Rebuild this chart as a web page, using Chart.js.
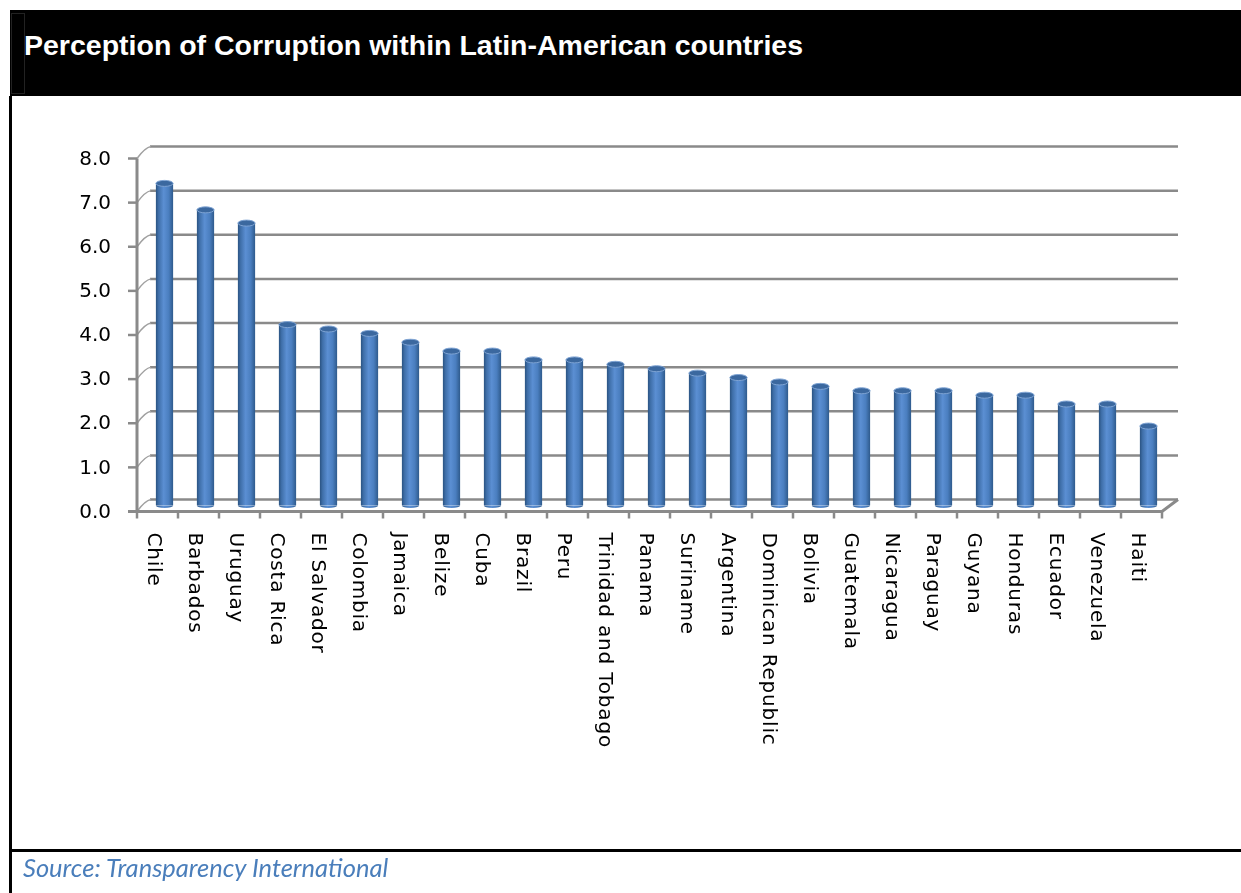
<!DOCTYPE html>
<html>
<head>
<meta charset="utf-8">
<script src="https://cdn.jsdelivr.net/npm/chart.js@4.4.1/dist/chart.umd.min.js"></script>
<style>
  html, body { margin: 0; padding: 0; background: #fff; }
  body { width: 1241px; height: 893px; position: relative; overflow: hidden; }
  #chart { position: absolute; left: 0; top: 0; }
  .header { position: absolute; left: 10px; top: 10px; width: 1231px; height: 86px; background: #000; }
  .header .inner { position: absolute; left: 1px; top: 3px; width: 12px; height: 79px; border: 1px solid #222; }
  .title { position: absolute; left: 24px; top: 29px; color: #fff; font: bold 28.5px "Liberation Sans", Arial, sans-serif; white-space: nowrap; }
  .vline { position: absolute; left: 9px; top: 96px; width: 3px; height: 797px; background: #000; }
  .hline { position: absolute; left: 9px; top: 849px; width: 1232px; height: 3px; background: #000; }
  .source { position: absolute; left: 23px; top: 852px; color: #4a7ebb; font: italic 25.5px Lato, "Open Sans", sans-serif; white-space: nowrap; }
</style>
</head>
<body>
<canvas id="chart" width="1241" height="893"></canvas>
<div class="header"><div class="inner"></div></div>
<div class="title">Perception of Corruption within Latin-American countries</div>
<div class="vline"></div>
<div class="hline"></div>
<div class="source">Source: Transparency International</div>

<script>
const countries = [
  "Chile", "Barbados", "Uruguay", "Costa Rica", "El Salvador", "Colombia",
  "Jamaica", "Belize", "Cuba", "Brazil", "Peru", "Trinidad and Tobago",
  "Panama", "Suriname", "Argentina", "Dominican Republic", "Bolivia",
  "Guatemala", "Nicaragua", "Paraguay", "Guyana", "Honduras", "Ecuador",
  "Venezuela", "Haiti",
];
const scores = [
  7.3, 6.7, 6.4, 4.1, 4.0, 3.9, 3.7, 3.5, 3.5, 3.3, 3.3, 3.2, 3.1, 3.0,
  2.9, 2.8, 2.7, 2.6, 2.6, 2.6, 2.5, 2.5, 2.3, 2.3, 1.8,
];
const yTickLabels = ["0.0", "1.0", "2.0", "3.0", "4.0", "5.0", "6.0", "7.0", "8.0"];

// fake 3d depth: back wall is +DX,-DY from the bar plane, front axis is -DX,+DY
const DX = 7;
const DY = 6;
const GRID = "#8a8a8a";

const barGradient = (ctx, x, w) => {
  const g = ctx.createLinearGradient(x - w / 2, 0, x + w / 2, 0);
  g.addColorStop(0, "#2b5483");
  g.addColorStop(0.15, "#3f6fa9");
  g.addColorStop(0.45, "#5b8fd3");
  g.addColorStop(0.75, "#4a7ebf");
  g.addColorStop(1, "#2f5b8d");
  return g;
};

const axes3d = {
  id: "axes3d",
  beforeDatasetsDraw(chart) {
    const ctx = chart.ctx;
    const xs = chart.scales.x;
    const ys = chart.scales.y;
    const area = chart.chartArea;
    ctx.save();
    ctx.lineCap = "butt";

    // back wall gridlines + connectors to the front axis
    ys.ticks.forEach((t, i) => {
      const y = ys.getPixelForValue(t.value);
      ctx.strokeStyle = GRID;
      ctx.lineWidth = 2.5;
      ctx.beginPath();
      ctx.moveTo(area.left + DX - 1, y - DY);
      ctx.lineTo(area.right + DX + 2, y - DY);
      ctx.stroke();

      ctx.strokeStyle = "#a0a0a0";
      ctx.lineWidth = 1.5;
      ctx.beginPath();
      ctx.moveTo(area.left - DX, y + DY);
      ctx.quadraticCurveTo(area.left + 1, y - DY + 1, area.left + DX, y - DY);
      ctx.stroke();

      // front tick + label
      ctx.strokeStyle = GRID;
      ctx.lineWidth = 2.5;
      ctx.beginPath();
      ctx.moveTo(area.left - DX - 9, y + DY);
      ctx.lineTo(area.left - DX, y + DY);
      ctx.stroke();

      ctx.fillStyle = "#000";
      ctx.font = "20px 'DejaVu Sans'";
      ctx.textAlign = "right";
      ctx.textBaseline = "middle";
      ctx.fillText(yTickLabels[i], area.left - DX - 26, y + DY + 1);
    });

    // front value axis
    const y0 = ys.getPixelForValue(0);
    const yTop = ys.getPixelForValue(ys.max);
    ctx.strokeStyle = GRID;
    ctx.lineWidth = 3;
    ctx.beginPath();
    ctx.moveTo(area.left - DX, yTop + DY);
    ctx.lineTo(area.left - DX, y0 + DY);
    ctx.stroke();

    // floor front edge and right side edge
    ctx.beginPath();
    ctx.moveTo(area.left - DX - 9, y0 + DY);
    ctx.lineTo(area.right - DX, y0 + DY);
    ctx.lineTo(area.right + DX + 2, y0 - DY);
    ctx.stroke();

    // category ticks on front edge
    ctx.lineWidth = 2.5;
    const step = (area.right - area.left) / countries.length;
    for (let k = 0; k <= countries.length; k++) {
      const x = area.left - DX + k * step;
      ctx.beginPath();
      ctx.moveTo(x, y0 + DY);
      ctx.lineTo(x, y0 + DY + 7);
      ctx.stroke();
    }

    // category labels, rotated to read top to bottom
    ctx.fillStyle = "#000";
    ctx.font = "20px 'DejaVu Sans'";
    ctx.letterSpacing = "0.8px";
    ctx.textAlign = "left";
    ctx.textBaseline = "middle";
    countries.forEach((c, i) => {
      const x = xs.getPixelForValue(i) - DX - 4;
      ctx.save();
      ctx.translate(x, y0 + DY + 21);
      ctx.rotate(Math.PI / 2);
      ctx.fillText(c, 0, 0);
      ctx.restore();
    });
    ctx.restore();
  },
  afterDatasetsDraw(chart) {
    const ctx = chart.ctx;
    const meta = chart.getDatasetMeta(0);
    ctx.save();
    meta.data.forEach((bar) => {
      const w = bar.width;
      // rounded bottom
      ctx.fillStyle = barGradient(ctx, bar.x, w);
      ctx.beginPath();
      ctx.ellipse(bar.x, bar.base, w / 2, 2.5, 0, 0, Math.PI);
      ctx.fill();
      // top cap
      ctx.fillStyle = "#3b689f";
      ctx.strokeStyle = "#7ea3d3";
      ctx.lineWidth = 1;
      ctx.beginPath();
      ctx.ellipse(bar.x, bar.y, w / 2, 3, 0, 0, Math.PI * 2);
      ctx.fill();
      ctx.stroke();
    });
    ctx.restore();
  },
};

const canvas = document.getElementById("chart");
const myChart = new Chart(canvas.getContext("2d"), {
  type: "bar",
  data: {
    labels: countries,
    datasets: [
      {
        label: "CPI score",
        data: scores,
        backgroundColor: (c) => {
          const chart = c.chart;
          if (!chart.chartArea) return "#4f81bd";
          const x = chart.scales.x.getPixelForValue(c.dataIndex);
          return barGradient(chart.ctx, x, 17);
        },
        borderWidth: 0,
        barPercentage: 0.42,
        categoryPercentage: 1,
      },
    ],
  },
  options: {
    responsive: false,
    animation: false,
    devicePixelRatio: 1,
    layout: {
      padding: { left: 144, right: 72, top: 152.5, bottom: 387.5 },
    },
    plugins: {
      legend: { display: false },
      tooltip: { enabled: false },
    },
    scales: {
      x: { display: false, offset: true },
      y: {
        display: false,
        min: 0,
        max: 8,
        ticks: { stepSize: 1 },
      },
    },
  },
  plugins: [axes3d],
});
</script>
</body>
</html>
